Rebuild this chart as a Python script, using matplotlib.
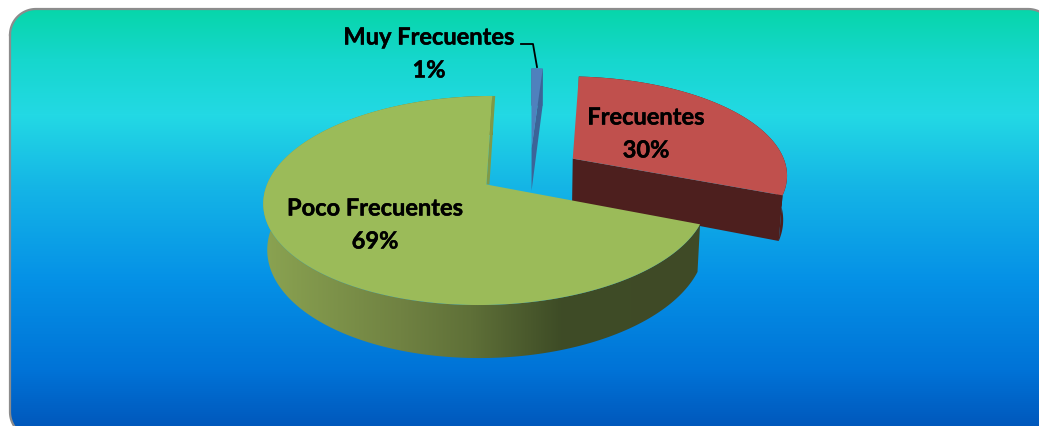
import numpy as np
import matplotlib
matplotlib.use('Agg')
from matplotlib import pyplot as plt
from matplotlib.patches import Polygon
import matplotlib.patheffects as pe

categorias = ['Muy Frecuentes', 'Frecuentes', 'Poco Frecuentes']
valores = [1, 30, 69]

cores_topo = ['#4f81bd', '#c0504d', '#9bbb59']
cores_parede = ['#3c6498', '#4d1f1e', '#7f9a48']

# projecao do disco
CX, CY = 530, 172
R, T = 215, 98
K = 0.15
PROF = 44
ENCOLHE = 0.985
EXPLODE = 0.24


def projeta(x, y, baixo=False):
    s = 1 / (1 + K * y)
    f = ENCOLHE if baixo else 1.0
    sx = CX + R * x * s * f
    sy = CY - T * y * s
    if baixo:
        sy = sy + PROF * s
    return np.column_stack([sx, sy])


def fatia(a0, a1, baixo=False):
    # a0, a1 em graus, contorno do topo ou da base
    meio = np.radians((a0 + a1) / 2)
    ox, oy = EXPLODE * np.cos(meio), EXPLODE * np.sin(meio)
    t = np.radians(np.linspace(a0, a1, 200))
    x = np.concatenate([[ox], ox + np.cos(t)])
    y = np.concatenate([[oy], oy + np.sin(t)])
    return projeta(x, y, baixo)


def moldura(x0, y0, x1, y1, r):
    # retangulo arredondado como polilinha
    t = np.linspace(0, np.pi / 2, 30)
    c, s = r * np.cos(t), r * np.sin(t)
    xs = np.concatenate([x0 + r - c, x1 - r + s, x1 - r + c, x0 + r - s, [x0]])
    ys = np.concatenate([y0 + r - s, y0 + r - c, y1 - r + s, y1 - r + c, [y0 + r]])
    return xs, ys


fig = plt.figure(figsize=(10.39, 4.27), dpi=100, facecolor='white')
ax = fig.add_axes([0, 0, 1, 1])
ax.set_xlim(0, 1039)
ax.set_ylim(427, 0)
ax.axis('off')

# fundo em degrade
ys = np.arange(0, 427)
pos = [0, 10, 60, 115, 190, 280, 370, 427]
rgb = np.array([[7, 214, 170], [7, 214, 170], [22, 215, 205], [35, 217, 228],
                [20, 180, 230], [5, 145, 230], [0, 115, 215], [0, 88, 188]]) / 255
grad = np.stack([np.interp(ys, pos, rgb[:, i]) for i in range(3)], axis=1)[:, None, :]
fundo = ax.imshow(grad, extent=[0, 1039, 427, 0], aspect='auto', zorder=0)
mx, my = moldura(10, 10, 1054, 439, 26)
caixa = Polygon(np.column_stack([mx, my]), fc='none', ec='none')
ax.add_patch(caixa)
fundo.set_clip_path(caixa)
dentro = my <= 427
ax.plot(mx[dentro][:np.argmax(~dentro) or None], my[dentro][:np.argmax(~dentro) or None],
        color='#8c8c8c', lw=1.6, zorder=1)
ax.plot(mx[np.argmax(my > 427) + 30:], my[np.argmax(my > 427) + 30:],
        color='#8c8c8c', lw=1.6, zorder=1)

# angulos no sentido horario a partir de 90
angulos = 90 - 3.6 * np.cumsum([0] + valores)

# 1) azul, 2) vermelho, 3) verde: de tras para frente
for i in range(3):
    a0, a1 = angulos[i + 1], angulos[i]
    topo = fatia(a0, a1)
    base = fatia(a0, a1, True)
    if i == 2:
        # corte interno do verde, faixa fina ao lado da borda
        ax.add_patch(Polygon([topo[0], topo[1], topo[1] + [3, 0], topo[0] + [3, 0]],
                             fc=cores_parede[i], ec='none', zorder=3.5))
    else:
        ax.add_patch(Polygon([topo[0], topo[1], base[1], base[0]],
                             fc=cores_parede[i], ec='none', zorder=3))
    # parede externa
    par = np.vstack([topo[1:], base[1:][::-1]])
    if i == 2:
        xx = np.arange(255, 705)
        px = [255, 400, 470, 560, 700]
        cor = np.array([[140, 165, 82], [112, 130, 66], [95, 112, 56], [62, 76, 38], [64, 74, 38]]) / 255
        g = np.stack([np.interp(xx, px, cor[:, j]) for j in range(3)], axis=1)[None, :, :]
        im = ax.imshow(g, extent=[255, 705, 370, 90], aspect='auto', zorder=3)
        p = Polygon(par, fc='none', ec='none', transform=ax.transData)
        ax.add_patch(p)
        im.set_clip_path(p)
    else:
        ax.add_patch(Polygon(par, fc=cores_parede[i], ec='none', zorder=3))
    ax.add_patch(Polygon(topo, fc=cores_topo[i], ec='none', zorder=4))

ax.set_xlim(0, 1039)
ax.set_ylim(427, 0)

# rotulos
rotulos_pos = [(429, 38), (646, 118), (375, 209)]
fonte = dict(family='Lato', weight='bold', fontsize=17, color='black',
             ha='center', va='center', zorder=6,
             path_effects=[pe.withStroke(linewidth=0.3, foreground='black')])
for nome, v, (x, y) in zip(categorias, valores, rotulos_pos):
    ax.text(x, y, nome, **fonte)
    ax.text(x, y + 33, f'{v}%', **fonte)

# linha guia
ax.plot([521, 533, 537], [45, 45, 68], color='black', lw=1.3, zorder=6)

fig.savefig('out.png', dpi=100, facecolor='white')
